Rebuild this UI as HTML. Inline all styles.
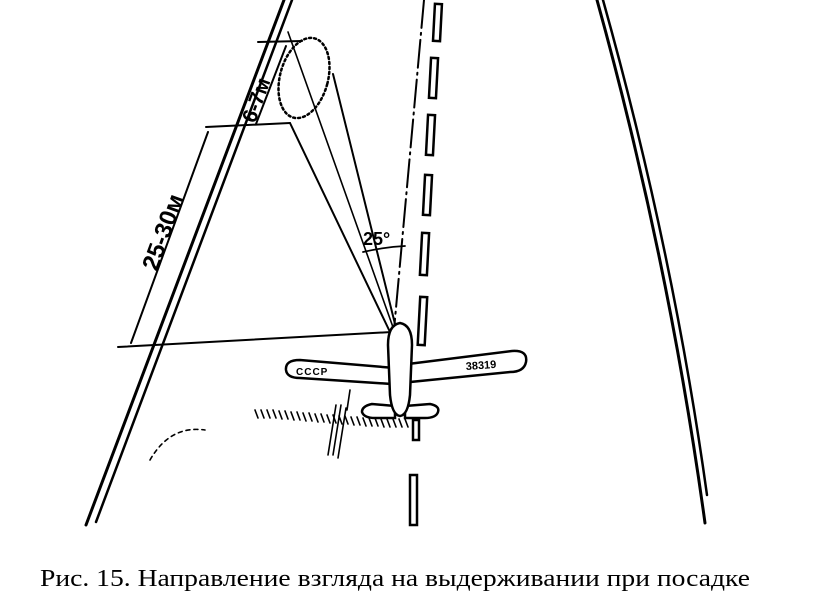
<!DOCTYPE html>
<html><head><meta charset="utf-8"><style>
html,body{margin:0;padding:0;background:#fff;}
svg{display:block;}
</style></head><body>
<svg width="831" height="612" viewBox="0 0 831 612" xmlns="http://www.w3.org/2000/svg">
<g stroke="#000" fill="none" stroke-linecap="round">
<line x1="284" y1="0" x2="86" y2="525" stroke-width="3"/>
<line x1="292" y1="0" x2="96" y2="522" stroke-width="2.5"/>
<path d="M597 0 Q669 260 705 523" stroke-width="3"/>
<path d="M603 0 Q673 250 707 495" stroke-width="2.5"/>
<line x1="424" y1="0" x2="394" y2="330" stroke-width="2" stroke-dasharray="28 5 2 5"/>
<g stroke-width="2.5" fill="#fff">
<rect x="434" y="4" width="7" height="37" transform="rotate(3 437 22)"/>
<rect x="430" y="58" width="7" height="40" transform="rotate(3 433 78)"/>
<rect x="427" y="115" width="7" height="40" transform="rotate(3 430 135)"/>
<rect x="424" y="175" width="7" height="40" transform="rotate(3 427 195)"/>
<rect x="421" y="233" width="7" height="42" transform="rotate(3 424 254)"/>
<rect x="419" y="297" width="7" height="48" transform="rotate(3 422 320)"/>
<rect x="410" y="475" width="7" height="50"/>
</g>
<line x1="258" y1="42" x2="302" y2="41" stroke-width="2"/>
<line x1="206" y1="127" x2="290" y2="123" stroke-width="2"/>
<line x1="118" y1="347" x2="392" y2="332" stroke-width="2"/>
<line x1="208" y1="132" x2="131" y2="343" stroke-width="2"/>
<line x1="286" y1="46" x2="256" y2="124" stroke-width="2"/>
<line x1="290" y1="123" x2="390" y2="332" stroke-width="2"/>
<line x1="288" y1="32" x2="394" y2="330" stroke-width="1.6"/>
<line x1="333" y1="74" x2="396" y2="328" stroke-width="2"/>
<ellipse cx="304" cy="78" rx="24" ry="41" transform="rotate(15 304 78)" stroke-width="2.5" stroke-dasharray="2 3"/>
<path d="M363 252 Q385 247 405 246" stroke-width="1.8"/>
<g stroke-width="2.5" fill="#fff">
<path d="M400 365 L512 351 Q528 350 526 362 Q524 372 510 372 L410 382 Z"/>
<path d="M395 368 L300 360 Q285 360 286 370 Q287 378 300 378 L392 384 Z"/>
<path d="M405 406 L430 404 Q440 406 438 412 Q436 418 425 418 L405 418 Z"/>
<path d="M395 406 L372 404 Q362 406 362 412 Q364 418 375 418 L395 418 Z"/>
<path d="M400 323 Q412 325 412 345 L410 395 Q408 415 400 416 Q392 415 390 395 L388 345 Q388 325 400 323 Z"/>
<rect x="413" y="420" width="6" height="20"/>
</g>
<g stroke-width="1.6">
<path d="M255 410 l3 8 M261 410 l3 8 M267 410 l3 8 M273 410 l3 8 M279 411 l3 8 M285 411 l3 8 M291 412 l3 8 M297 412 l3 8 M303 413 l3 8 M309 413 l3 8 M315 414 l3 8 M321 414 l3 8 M327 415 l3 8 M333 415 l3 8 M339 416 l3 8 M345 416 l3 8 M351 417 l3 8 M357 417 l3 8 M363 418 l3 8 M369 418 l3 8 M375 418 l3 8 M381 419 l3 8 M387 419 l3 8 M393 419 l3 8 M399 419 l3 8 M405 419 l3 8"/>
<path d="M336 405 l-8 50 M341 405 l-8 50 M346 408 l-8 50 M350 390 l-3 20"/>
<path d="M150 460 Q170 425 205 430" stroke-dasharray="4 4"/>
</g>
</g>
<g font-family="Liberation Sans Narrow, Liberation Sans, sans-serif" font-weight="bold" fill="#000">
<text x="0" y="0" font-size="21" transform="translate(255 124) rotate(-70)">6-7м</text>
<text x="0" y="0" font-size="24" transform="translate(157 272) rotate(-70)">25-30м</text>
<text x="363" y="245" font-size="18">25°</text>
<text x="296" y="375" font-size="10" letter-spacing="1">СССР</text>
<text x="466" y="370" font-size="11" transform="rotate(-4 466 370)">38319</text>
</g>
<text x="40" y="586" font-family="Liberation Serif, serif" font-size="24" textLength="710" lengthAdjust="spacingAndGlyphs" fill="#000">Рис. 15. Направление взгляда на выдерживании при посадке</text>
</svg>
</body></html>
